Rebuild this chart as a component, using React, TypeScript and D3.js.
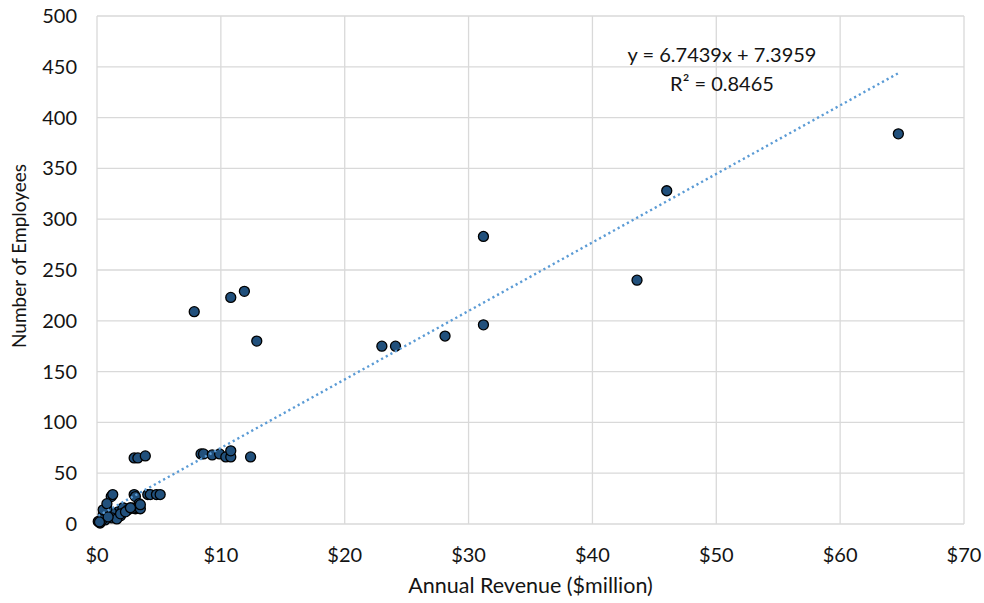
import React from "react";
import * as d3 from "d3";

// revenue in $million, employees as headcount
const revenue = [
  64.7, 46.0, 43.6, 31.2, 31.2, 28.1, 23.0, 24.1, 7.85, 10.8, 11.9, 12.9,
  8.4, 8.6, 9.3, 9.9, 10.4, 10.8, 10.8, 12.4, 3.0, 3.3, 3.9,
  1.15, 1.27, 3.0, 3.1, 4.1, 4.3, 4.8, 5.1, 3.4, 2.5, 3.1, 3.2, 1.7, 1.2,
  1.2, 0.8, 0.5, 0.5, 0.25, 0.1, 0.65, 1.9, 2.1, 2.9, 3.5, 1.6, 0.4, 0.2,
  1.9, 2.5, 0.9, 2.3, 2.7, 3.5, 0.8,
];
const employees = [
  384, 328, 240, 283, 196, 185, 175, 175, 209, 223, 229, 180,
  69, 69, 68, 69, 66, 66, 72, 66, 65, 65, 67,
  27, 29, 29, 27, 29, 29, 29, 29, 20, 15, 15, 16, 12, 11,
  6, 15, 9, 14, 1, 2.5, 4, 8, 16, 15.6, 15, 5, 4, 2,
  10, 14, 7, 12, 16, 19, 20,
];

const xTicks = [0, 10, 20, 30, 40, 50, 60, 70];
const yTicks = [0, 50, 100, 150, 200, 250, 300, 350, 400, 450, 500];

// trendline reported by the source chart
const slope = 6.7439;
const intercept = 7.3959;
const r2 = 0.8465;

const W = 984;
const H = 603;
const margin = { top: 16, right: 20, bottom: 79, left: 97 };
const font = "Lato, 'Open Sans', sans-serif";
const ink = "#141414";

export default function App() {
  const x = d3.scaleLinear().domain([0, 70]).range([margin.left, W - margin.right]);
  const y = d3.scaleLinear().domain([0, 500]).range([H - margin.bottom, margin.top]);

  const xMin = d3.min(revenue) as number;
  const xMax = d3.max(revenue) as number;
  const trend = d3.line<number>()
    .x((d) => x(d))
    .y((d) => y(slope * d + intercept))([xMin, xMax]);

  const pts = revenue.map((r, i) => ({ r, e: employees[i] }));

  return (
    <svg
      width={W}
      height={H}
      style={{ position: "absolute", left: 0, top: 0, background: "#fff" }}
      fontFamily={font}
    >
      {/* grid */}
      {yTicks.map((t) => (
        <line key={"gy" + t} x1={x(0)} x2={x(70)} y1={y(t)} y2={y(t)} stroke="#d9d9d9" strokeWidth={1.3} />
      ))}
      {xTicks.map((t) => (
        <line key={"gx" + t} x1={x(t)} x2={x(t)} y1={y(0)} y2={y(500)} stroke="#d9d9d9" strokeWidth={1.3} />
      ))}

      {/* tick labels */}
      {yTicks.map((t) => (
        <text key={"ly" + t} x={x(0) - 20} y={y(t)} dy="0.35em" textAnchor="end" fontSize={20} fill={ink}>
          {t}
        </text>
      ))}
      {xTicks.map((t) => (
        <text key={"lx" + t} x={x(t)} y={562} textAnchor="middle" fontSize={20} fill={ink}>
          {"$" + t}
        </text>
      ))}

      {/* axis titles */}
      <text
        transform={`translate(26,256) rotate(-90)`}
        textAnchor="middle"
        fontSize={19}
        fill={ink}
      >
        Number of Employees
      </text>
      <text x={(x(0) + x(70)) / 2} y={593} textAnchor="middle" fontSize={21.5} fill={ink}>
        Annual Revenue ($million)
      </text>

      {/* points */}
      {pts.map((p, i) => (
        <circle key={i} cx={x(p.r)} cy={y(p.e)} r={5} fill="#21507c" stroke="#000" strokeWidth={1.3} />
      ))}

      {/* trendline */}
      <path d={trend || ""} fill="none" stroke="#5b9bd5" strokeWidth={2.4} strokeDasharray="2.2 3.1" />

      {/* equation */}
      <text x={722} y={62} textAnchor="middle" fontSize={20} fill={ink}>
        {`y = ${slope}x + ${intercept}`}
      </text>
      <text x={722} y={91} textAnchor="middle" fontSize={20} fill={ink}>
        {`R² = ${r2}`}
      </text>
    </svg>
  );
}
